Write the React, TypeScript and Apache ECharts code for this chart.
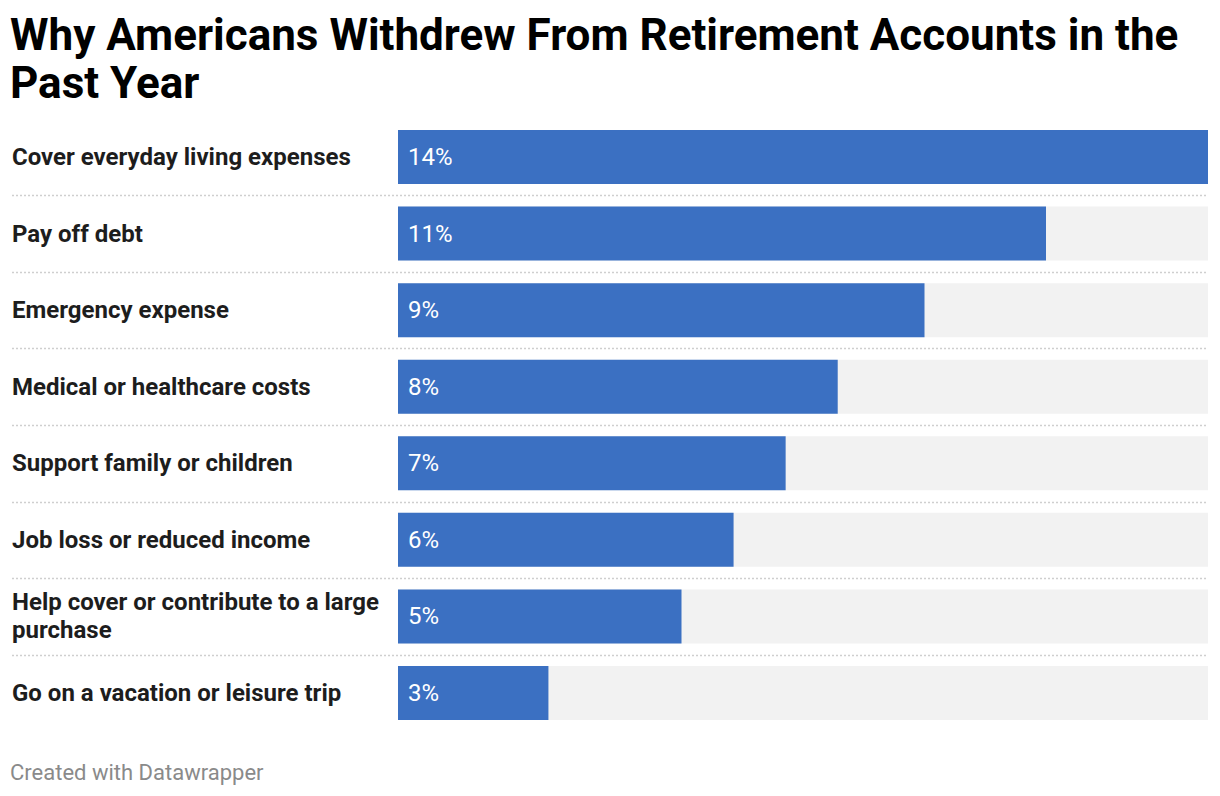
import React, { useEffect, useRef } from "react";
import * as echarts from "echarts";

const titleText = "Why Americans Withdrew From Retirement Accounts in the\nPast Year";
const footerText = "Created with Datawrapper";
const categories = [
  "Cover everyday living expenses",
  "Pay off debt",
  "Emergency expense",
  "Medical or healthcare costs",
  "Support family or children",
  "Job loss or reduced income",
  "Help cover or contribute to a large purchase",
  "Go on a vacation or leisure trip",
];
const values = [14.0, 11.2, 9.1, 7.6, 6.7, 5.8, 4.9, 2.6];

export default function App() {
  const ref = useRef<HTMLDivElement>(null);
  useEffect(() => {
    document.body.style.margin = "0";
    const chart = echarts.init(ref.current!, null, { renderer: "svg" });
    const font = "Roboto, 'Noto Sans', sans-serif";
    const maxV = Math.max(...values);
    chart.setOption({
      animation: false,
      textStyle: { fontFamily: font },
      title: {
        text: titleText,
        left: 10,
        top: 11,
        padding: 0,
        textStyle: {
          fontFamily: font,
          fontSize: 44,
          fontWeight: "bold",
          color: "#000",
          lineHeight: 48,
        },
      },
      graphic: [
        {
          type: "text",
          left: 10,
          top: 761,
          style: { text: footerText, fontFamily: font, fontSize: 22, fill: "#8a8a8a" },
        },
      ],
      grid: { left: 398, right: 12, top: 118.7, height: 612.6, containLabel: false },
      xAxis: {
        type: "value",
        min: 0,
        max: maxV,
        show: false,
      },
      yAxis: {
        type: "category",
        data: categories,
        inverse: true,
        axisLine: { show: false },
        axisTick: { show: false },
        splitLine: { show: false },
        axisLabel: {
          align: "left",
          margin: 386,
          fontFamily: font,
          fontSize: 24,
          fontWeight: "bold",
          color: "#1d1d1d",
          width: 380,
          overflow: "break",
          lineHeight: 28,
        },
      },
      series: [
        {
          type: "bar",
          data: values,
          barWidth: 54,
          itemStyle: { color: "#3b70c2" },
          showBackground: true,
          backgroundStyle: { color: "#f2f2f2" },
          label: {
            show: true,
            position: "insideLeft",
            distance: 10,
            color: "#fff",
            fontFamily: font,
            fontSize: 24,
            formatter: (p: any) => Math.round(p.value) + "%",
          },
          z: 2,
        },
        {
          type: "custom",
          data: categories.slice(0, -1).map((_, i) => i),
          silent: true,
          z: 1,
          renderItem: (params: any, api: any) => {
            const idx = api.value(0);
            const c = api.coord([0, idx]);
            const band = api.size([0, 1])[1];
            const y = Math.round(c[1] + band / 2) + 0.5;
            const cs = params.coordSys;
            return {
              type: "line",
              shape: { x1: cs.x - 386, y1: y, x2: cs.x + cs.width, y2: y },
              style: { stroke: "#cfcfcf", lineWidth: 1.5, lineDash: [2, 2] },
            };
          },
          encode: { x: -1, y: 0 },
        },
      ],
    });
    return () => chart.dispose();
  }, []);
  return <div ref={ref} style={{ width: 1220, height: 796 }} />;
}
